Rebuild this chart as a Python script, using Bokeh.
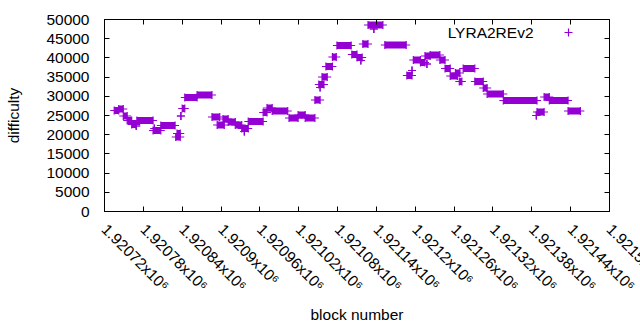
import math
from bokeh.plotting import figure
from bokeh.models import (Range1d, FixedTicker, CustomJSTickFormatter, LinearAxis,
                          Legend, LegendItem, ColumnDataSource, Label)
from bokeh.embed import file_html
from bokeh.resources import INLINE

# ---- data: runs of consecutive blocks with the same difficulty ----
run_start = [1920735, 1920742, 1920749, 1920755, 1920762, 1920769, 1920770, 1920795,
             1920797, 1920807, 1920830, 1920832, 1920838, 1920840, 1920844, 1920863,
             1920886, 1920894, 1920903, 1920911, 1920922, 1920932, 1920936, 1920942,
             1920965, 1920971, 1920979, 1921005, 1921019, 1921030, 1921045, 1921051,
             1921053, 1921056, 1921062, 1921072, 1921079, 1921102, 1921110, 1921116,
             1921119, 1921127, 1921136, 1921153, 1921187, 1921195, 1921197, 1921208,
             1921218, 1921215, 1921223, 1921238, 1921246, 1921254, 1921262, 1921268,
             1921274, 1921292, 1921305, 1921311, 1921336, 1921388, 1921387, 1921399,
             1921407, 1921436]
run_end = [1920742, 1920749, 1920755, 1920762, 1920769, 1920769, 1920795, 1920807,
           1920797, 1920829, 1920837, 1920837, 1920838, 1920844, 1920863, 1920886,
           1920898, 1920905, 1920911, 1920922, 1920932, 1920942, 1920936, 1920965,
           1920971, 1920979, 1921003, 1921019, 1921030, 1921045, 1921053, 1921059,
           1921053, 1921064, 1921072, 1921078, 1921101, 1921110, 1921118, 1921116,
           1921127, 1921150, 1921136, 1921186, 1921195, 1921195, 1921208, 1921215,
           1921218, 1921223, 1921238, 1921246, 1921254, 1921265, 1921269, 1921272,
           1921292, 1921305, 1921311, 1921336, 1921388, 1921399, 1921387, 1921407,
           1921436, 1921455]
run_difficulty = [26300, 26690, 24870, 23700, 22660, 22270, 23700, 21090,
                  21610, 22400, 19400, 20310, 24870, 26820, 29690, 30340,
                  24610, 22530, 24090, 23310, 22530, 21610, 20830, 23440,
                  25780, 26950, 26170, 24350, 25130, 24350, 29040, 33070,
                  32290, 35030, 37760, 40230, 43230, 40890, 40100, 39320,
                  43620, 48570, 47530, 43360, 35420, 36720, 39450, 38800,
                  38410, 40500, 40760, 39450, 37240, 35290, 36070, 33850,
                  37240, 33850, 32160, 30600, 28910, 25910, 25000, 29820,
                  28910, 26170]

x_tick_values = [1920720, 1920780, 1920840, 1920900, 1920960, 1921020, 1921080,
                 1921140, 1921200, 1921260, 1921320, 1921380, 1921440, 1921500]
y_tick_values = [0, 5000, 10000, 15000, 20000, 25000, 30000, 35000, 40000, 45000, 50000]
series_name = "LYRA2REv2"

COLOR = "#9400D3"
FONT = "Liberation Sans"
FS = "15.5px"

# a blank guard tick just past the last one: Bokeh pulls the outermost label
# back inside the canvas, and gnuplot lets the 1.9215 label run off the page
x_end = x_tick_values[-1] + 0.01
axis_ticks = x_tick_values + [x_end]

p = figure(width=640, height=330, output_backend="svg", toolbar_location=None,
           x_range=Range1d(x_tick_values[0], x_end),
           y_range=Range1d(y_tick_values[0], y_tick_values[-1]),
           min_border_left=104, min_border_right=31, min_border_top=19,
           min_border_bottom=119)
p.grid.visible = False
p.outline_line_color = "black"
p.outline_line_width = 1
p.background_fill_color = "white"
p.border_fill_color = "white"

src = ColumnDataSource(dict(x0=run_start, x1=run_end, y=run_difficulty))
p.segment(x0="x0", y0="y", x1="x1", y1="y", source=src, line_color=COLOR,
          line_width=7, line_cap="butt")
r1 = p.scatter(x="x0", y="y", source=src, marker="cross", size=8,
               line_color=COLOR, line_width=1.2)
p.scatter(x="x1", y="y", source=src, marker="cross", size=8,
          line_color=COLOR, line_width=1.2)

fmt = CustomJSTickFormatter(args=dict(last=x_tick_values[-1]), code="""
if (tick > last) { return ''; }
const s = (tick / 1e6).toFixed(5).replace(/0+$/, '').replace(/\\.$/, '');
return s + 'x10\\u2076';
""")

xa = p.xaxis[0]
xa.ticker = FixedTicker(ticks=axis_ticks)
xa.formatter = fmt
xa.major_label_orientation = -math.pi / 4
xa.axis_label = "block number"
ya = p.yaxis[0]
ya.ticker = FixedTicker(ticks=y_tick_values)
ya.axis_label = "difficulty"

for ax in (xa, ya):
    ax.major_tick_in = 5
    ax.major_tick_out = 0
    ax.minor_tick_line_color = None
    ax.axis_line_color = "black"
    ax.major_tick_line_color = "black"
    ax.major_label_text_font = FONT
    ax.major_label_text_font_size = FS
    ax.major_label_text_color = "black"
    ax.axis_label_text_font = FONT
    ax.axis_label_text_font_size = FS
    ax.axis_label_text_font_style = "normal"
    ax.axis_label_text_color = "black"
xa.major_label_standoff = 15
xa.axis_label_standoff = 3
ya.major_label_standoff = 15
ya.axis_label_standoff = 21

blank = CustomJSTickFormatter(code="return '';")
top = LinearAxis(ticker=FixedTicker(ticks=x_tick_values), formatter=blank,
                 major_tick_in=5, major_tick_out=0, minor_tick_line_color=None,
                 axis_line_color=None, major_label_standoff=0,
                 major_label_text_font_size="0px")
right = LinearAxis(ticker=FixedTicker(ticks=y_tick_values), formatter=blank,
                   major_tick_in=5, major_tick_out=0, minor_tick_line_color=None,
                   axis_line_color=None, major_label_standoff=0,
                   major_label_text_font_size="0px")
p.add_layout(top, "above")
p.add_layout(right, "right")

# key: gnuplot style (title on the left, sample on the right)
p.add_layout(Label(x=429, y=179, x_units="screen", y_units="screen", text=series_name,
                   text_align="right", text_baseline="middle", text_font=FONT,
                   text_font_size=FS, text_color="black"))
legend = Legend(items=[LegendItem(label=" ", renderers=[r1])],
                location=(453.5, 169), orientation="vertical",
                glyph_width=20, glyph_height=20, label_height=20, label_width=0,
                label_standoff=0, padding=0, margin=0, spacing=0,
                border_line_color=None, background_fill_alpha=0,
                label_text_font=FONT, label_text_font_size=FS)
p.add_layout(legend)

open("out.html", "w").write(file_html(p, INLINE))
